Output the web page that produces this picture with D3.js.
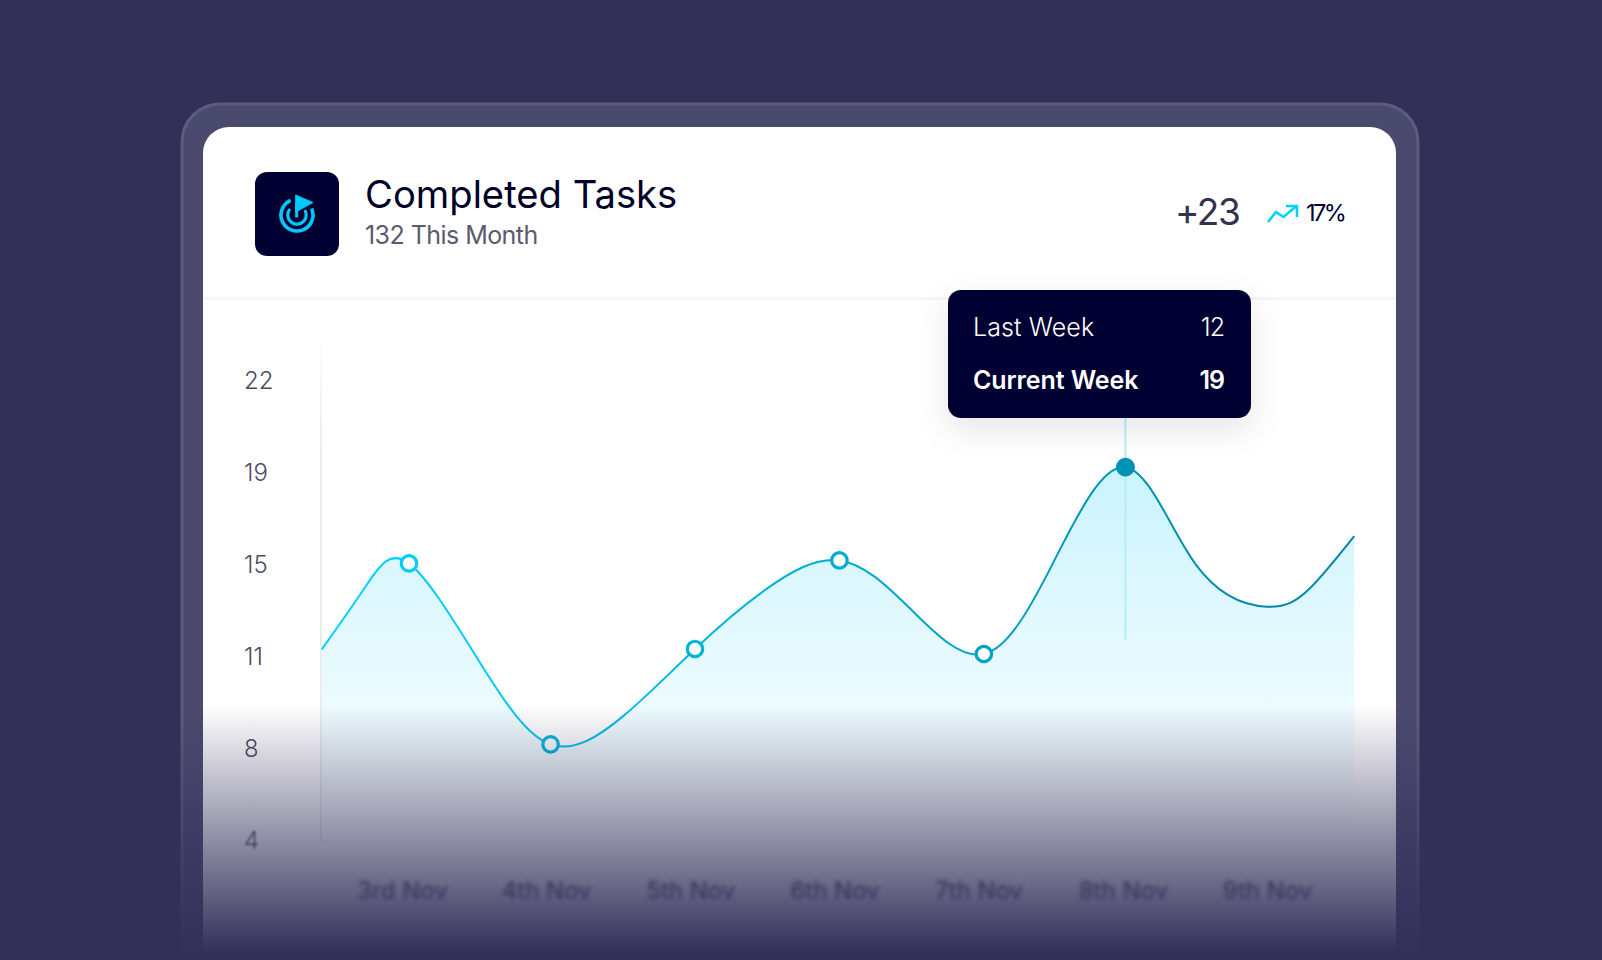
<!DOCTYPE html>
<html>
<head>
<meta charset="utf-8">
<script src="https://cdn.jsdelivr.net/npm/d3@7"></script>
<style>
html, body { margin: 0; padding: 0; background: #322f59; overflow: hidden; }
svg { display: block; }
text { font-family: Inter, "Noto Sans", sans-serif; }
</style>
</head>
<body>
<div id="chart"></div>
<script>
var svgWidth = 1602, svgHeight = 960;

// chart values (days counted from 3rd Nov)
var dayLabels = ["3rd Nov", "4th Nov", "5th Nov", "6th Nov", "7th Nov", "8th Nov", "9th Nov"];
var tickValues = [4, 8, 11, 15, 19, 22];
var lineDays = [-0.61, -0.3, 0, 0.5, 0.99, 1.5, 2, 2.5, 3.01, 3.5, 4.02, 4.5, 5.01, 5.5, 6, 6.3, 6.61];
var lineValues = [11.33, 14.1, 15.07, 10.79, 8.15, 9.08, 11.35, 13.96, 15.2, 13.13, 11.13, 15.04, 19.19, 15.04, 13.19, 13.99, 16.26];
var markerDays = [0, 0.99, 2, 3.01, 4.02];
var markerValues = [15.07, 8.15, 11.35, 15.2, 11.13];
var markerColors = ["#00cdf8", "#00b8e0", "#00b4d8", "#00acd4", "#00a2c6"];
var activeDay = [5.01];
var activeValue = [19.19];
var tooltipRows = ["Last Week", "Current Week"];
var tooltipValues = [12, 19];

var x = d3.scaleLinear().domain([0, 6]).range([409, 1267]);
var xLabels = d3.scalePoint().domain(dayLabels).range([402, 1267]);
var y = d3.scaleLinear().domain(tickValues).range([841, 749, 657, 565, 473, 381]);
var bottom = y(4);

var points = lineDays.map(function(d, i) {
    return {x: d, y: lineValues[i]};
});

var svg = d3.select("#chart").append("svg")
    .attr("width", svgWidth)
    .attr("height", svgHeight);

var defs = svg.append("defs");

function gradient(id, x1, y1, x2, y2, stops) {
    var g = defs.append("linearGradient")
        .attr("id", id)
        .attr("gradientUnits", "userSpaceOnUse")
        .attr("x1", x1).attr("y1", y1).attr("x2", x2).attr("y2", y2);
    stops.forEach(function(s) {
        g.append("stop")
            .attr("offset", s[0])
            .attr("stop-color", s[1])
            .attr("stop-opacity", s[2] === undefined ? 1 : s[2]);
    });
}

function blur(id, amount) {
    defs.append("filter")
        .attr("id", id)
        .attr("x", "-30%").attr("y", "-50%").attr("width", "160%").attr("height", "200%")
        .append("feGaussianBlur")
        .attr("stdDeviation", amount);
}

gradient("lineColor", 321, 0, 1354, 0, [[0, "#00d2ff"], [0.2, "#00c8f0"], [0.36, "#00b6dc"], [0.64, "#00a2c4"], [0.78, "#0092b4"], [1, "#0086a6"]]);
gradient("areaColor", 0, 468, 0, 841, [[0, "#c9f4fd"], [0.3, "#dcf7fe"], [0.64, "#ecfcff"], [1, "#ffffff"]]);
gradient("fade", 0, 705, 0, 953, [[0, "#322f59", 0], [1, "#322f59", 1]]);
gradient("axisFade", 0, 325, 0, 460, [[0, "#ebebef", 0], [1, "#ebebef", 1]]);
blur("blurS", 0.5);
blur("blurM", 1.2);
blur("blurL", 2.2);

var shadow = defs.append("filter")
    .attr("id", "tipShadow")
    .attr("x", "-20%").attr("y", "-30%").attr("width", "140%").attr("height", "170%");
shadow.append("feDropShadow")
    .attr("dx", 0).attr("dy", 12)
    .attr("stdDeviation", 16)
    .attr("flood-color", "#000033")
    .attr("flood-opacity", 0.1);

// frame and card
svg.append("rect")
    .attr("x", 182).attr("y", 104)
    .attr("width", 1236).attr("height", 900)
    .attr("rx", 38)
    .attr("fill", "#4a4a6e")
    .attr("stroke", "#5c5c7e")
    .attr("stroke-width", 3);

svg.append("rect")
    .attr("x", 203).attr("y", 127)
    .attr("width", 1193).attr("height", 880)
    .attr("rx", 26)
    .attr("fill", "#ffffff");

svg.append("rect")
    .attr("x", 203).attr("y", 297)
    .attr("width", 1193).attr("height", 3)
    .attr("fill", "#f6f6f8");

// header
var icon = svg.append("g");
icon.append("rect")
    .attr("x", 255).attr("y", 172)
    .attr("width", 84).attr("height", 84)
    .attr("rx", 12)
    .attr("fill", "#000033");

var ringArc = d3.arc().cornerRadius(1.2);
[[14.2, 17.8, 1.15, 5.88], [7.6, 10.8, 1.0, 5.43]].forEach(function(r) {
    icon.append("path")
        .attr("transform", "translate(297,215)")
        .attr("d", ringArc({innerRadius: r[0], outerRadius: r[1], startAngle: r[2], endAngle: r[3]}))
        .attr("fill", "#00c8f8");
});
icon.append("path")
    .attr("d", "M295.7,195 L313,202.5 L295.7,212 Z")
    .attr("fill", "#00c8f8")
    .attr("stroke", "#00c8f8")
    .attr("stroke-width", 1)
    .attr("stroke-linejoin", "round");
icon.append("rect")
    .attr("x", 295.2).attr("y", 205)
    .attr("width", 3).attr("height", 12.5)
    .attr("fill", "#00c8f8");

svg.append("text")
    .attr("x", 365).attr("y", 208)
    .attr("font-size", 38.2).attr("font-weight", 400)
    .attr("fill", "#000026")
    .text("Completed Tasks");

svg.append("text")
    .attr("x", 365).attr("y", 244)
    .attr("font-size", 25).attr("font-weight", 400)
    .attr("letter-spacing", -0.55)
    .attr("fill", "#5b5b6e")
    .text("132 This Month");

svg.append("text")
    .attr("x", 1175).attr("y", 225)
    .attr("font-size", 37).attr("font-weight", 400)
    .attr("letter-spacing", -1.4)
    .attr("fill", "#33334d")
    .text("+23");

svg.append("path")
    .attr("d", "M1268,222 L1276,212 L1283.5,217 L1296.5,206 M1286,206 L1297,206 L1297,217")
    .attr("fill", "none")
    .attr("stroke", "#00d2ff")
    .attr("stroke-width", 2.6);

svg.append("text")
    .attr("x", 1306).attr("y", 221)
    .attr("font-size", 23.5).attr("font-weight", 400)
    .attr("letter-spacing", -2.5)
    .attr("fill", "#000033")
    .text("17%");

// axes
var yAxis = d3.axisLeft(y).tickValues(tickValues).tickSize(0);
var yAxisG = svg.append("g")
    .attr("class", "yAxis")
    .attr("transform", "translate(321,0)")
    .call(yAxis);
yAxisG.select(".domain").remove();
yAxisG.selectAll("text")
    .attr("x", 244 - 321)
    .attr("text-anchor", "start")
    .attr("font-size", 24)
    .attr("font-family", "Inter")
    .attr("font-weight", 300)
    .attr("fill", "#4c4c60")
    .attr("filter", function(d) {
        return d == 4 ? "url(#blurM)" : (d == 8 ? "url(#blurS)" : null);
    });

svg.append("line")
    .attr("x1", 321).attr("x2", 321)
    .attr("y1", 325).attr("y2", bottom)
    .attr("stroke", "url(#axisFade)")
    .attr("stroke-width", 2);

svg.append("line")
    .attr("x1", 321).attr("x2", 1354)
    .attr("y1", bottom).attr("y2", bottom)
    .attr("stroke", "#f2f2f5")
    .attr("stroke-width", 2);

var xAxis = d3.axisBottom(xLabels).tickSize(0);
var xAxisG = svg.append("g")
    .attr("class", "xAxis")
    .attr("transform", "translate(0," + bottom + ")")
    .call(xAxis);
xAxisG.select(".domain").remove();
xAxisG.selectAll("text")
    .attr("y", 50)
    .attr("dy", "0.35em")
    .attr("font-size", 24)
    .attr("font-family", "Inter")
    .attr("fill", "#33334d")
    .attr("filter", "url(#blurL)");

// area and line
var area = d3.area()
    .x(function(d) { return x(d.x); })
    .y0(bottom)
    .y1(function(d) { return y(d.y); })
    .curve(d3.curveNatural);

var line = d3.line()
    .x(function(d) { return x(d.x); })
    .y(function(d) { return y(d.y); })
    .curve(d3.curveNatural);

svg.append("path")
    .datum(points)
    .attr("fill", "url(#areaColor)")
    .attr("d", area);

svg.append("line")
    .attr("x1", x(activeDay[0])).attr("x2", x(activeDay[0]))
    .attr("y1", 418).attr("y2", 640)
    .attr("stroke", "#b5eefb")
    .attr("stroke-width", 2);

svg.append("path")
    .datum(points)
    .attr("fill", "none")
    .attr("stroke", "url(#lineColor)")
    .attr("stroke-width", 2)
    .attr("d", line);

svg.selectAll(".dot")
    .data(markerDays)
    .enter().append("circle")
    .attr("class", "dot")
    .attr("cx", function(d) { return x(d); })
    .attr("cy", function(d, i) { return y(markerValues[i]); })
    .attr("r", 7.7)
    .attr("fill", "#ffffff")
    .attr("stroke", function(d, i) { return markerColors[i]; })
    .attr("stroke-width", 3.2);

svg.selectAll(".activeDot")
    .data(activeDay)
    .enter().append("circle")
    .attr("class", "activeDot")
    .attr("cx", function(d) { return x(d); })
    .attr("cy", function(d, i) { return y(activeValue[i]); })
    .attr("r", 9.4)
    .attr("fill", "#0092b5");

// fade over the bottom of the card
svg.append("rect")
    .attr("x", 0).attr("y", 705)
    .attr("width", svgWidth).attr("height", 255)
    .attr("fill", "url(#fade)");

// tooltip
var tip = svg.append("g");
tip.append("rect")
    .attr("x", 948).attr("y", 290)
    .attr("width", 303).attr("height", 128)
    .attr("rx", 13)
    .attr("fill", "#000033")
    .attr("filter", "url(#tipShadow)");

tooltipRows.forEach(function(label, i) {
    var base = 336 + i * 53;
    var weight = i == 1 ? 600 : 300;
    tip.append("text")
        .attr("x", 973).attr("y", base)
        .attr("font-size", 25).attr("font-weight", weight)
        .attr("letter-spacing", i == 1 ? -0.1 : 0.1)
        .attr("fill", "#ffffff")
        .text(label);
    tip.append("text")
        .attr("x", 1224).attr("y", base)
        .attr("text-anchor", "end")
        .attr("font-size", 25).attr("font-weight", weight)
        .attr("letter-spacing", -1)
        .attr("fill", "#ffffff")
        .text(tooltipValues[i]);
});
</script>
</body>
</html>
